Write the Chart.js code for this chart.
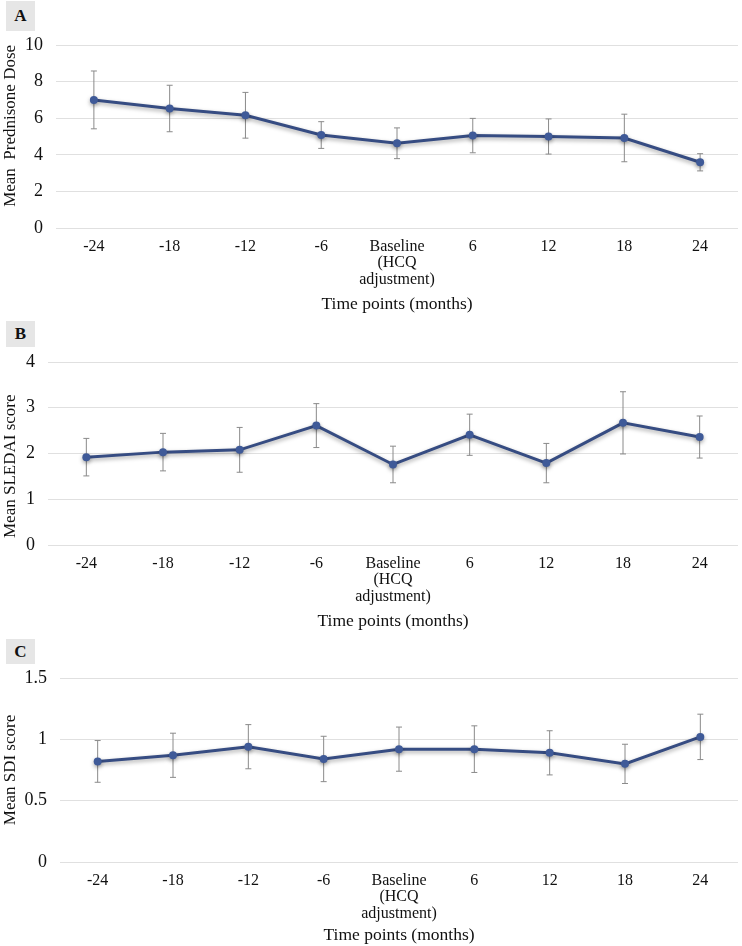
<!DOCTYPE html>
<html>
<head>
<meta charset="utf-8">
<script src="https://cdn.jsdelivr.net/npm/chart.js@4.4.1/dist/chart.umd.min.js"></script>
<style>
  body { margin: 0; background: #fff; }
  #wrap { position: relative; width: 742px; height: 946px; }
  canvas { position: absolute; left: 0; }
  .tag {
    position: absolute; left: 6px; width: 29px;
    background: #e6e6e6; color: #111;
    font: bold 17px "Liberation Serif", serif;
    display: flex; align-items: center; justify-content: center;
  }
</style>
</head>
<body>
<div id="wrap">
  <div class="tag" style="top:1px;height:30px;">A</div>
  <div class="tag" style="top:321px;height:26px;">B</div>
  <div class="tag" style="top:639px;height:25px;">C</div>
  <canvas id="chartA" width="742" height="315" style="top:0px"></canvas>
  <canvas id="chartB" width="742" height="317" style="top:315px"></canvas>
  <canvas id="chartC" width="742" height="314" style="top:632px"></canvas>
</div>
<script>
const timePoints = ['-24', '-18', '-12', '-6', ['Baseline', '(HCQ', 'adjustment)'], '6', '12', '18', '24'];

const prednisoneMean = [7.0, 6.53, 6.16, 5.08, 4.63, 5.05, 5.0, 4.92, 3.59];
const prednisoneErr  = [1.58, 1.27, 1.25, 0.73, 0.84, 0.94, 0.96, 1.30, 0.47];

const sledaiMean = [1.92, 2.03, 2.08, 2.61, 1.76, 2.41, 1.79, 2.67, 2.36];
const sledaiErr  = [0.41, 0.41, 0.49, 0.48, 0.40, 0.45, 0.43, 0.68, 0.46];

const sdiMean = [0.82, 0.87, 0.94, 0.84, 0.92, 0.92, 0.89, 0.80, 1.02];
const sdiErr  = [0.17, 0.18, 0.18, 0.185, 0.18, 0.19, 0.18, 0.16, 0.185];

const serif = 'Liberation Serif';

// error bars are drawn under the line, using the chart's own scales
const errorBars = {
  id: 'errorBars',
  beforeDatasetsDraw(chart) {
    const ctx = chart.ctx;
    const x = chart.scales.x, y = chart.scales.y;
    chart.data.datasets.forEach(ds => {
      ds.data.forEach((v, i) => {
        const e = ds.errors[i];
        const px = x.getPixelForValue(i);
        const top = y.getPixelForValue(v + e);
        const bot = y.getPixelForValue(v - e);
        ctx.save();
        ctx.strokeStyle = '#8a8a8a';
        ctx.lineWidth = 1;
        ctx.beginPath();
        ctx.moveTo(px, top); ctx.lineTo(px, bot);
        ctx.moveTo(px - 3, top); ctx.lineTo(px + 3, top);
        ctx.moveTo(px - 3, bot); ctx.lineTo(px + 3, bot);
        ctx.stroke();
        ctx.restore();
      });
    });
  }
};

const lineShadow = {
  id: 'lineShadow',
  beforeDatasetDraw(chart) {
    const ctx = chart.ctx;
    ctx.save();
    ctx.shadowColor = 'rgba(0,0,0,0.35)';
    ctx.shadowBlur = 4;
    ctx.shadowOffsetY = 2;
  },
  afterDatasetDraw(chart) {
    chart.ctx.restore();
  }
};

function makePanel(id, values, errors, yMax, yStep, yTitle, axisW, axisH, padTop) {
  return new Chart(document.getElementById(id), {
    type: 'line',
    data: {
      labels: timePoints,
      datasets: [{
        data: values,
        errors: errors,
        borderColor: '#364c82',
        backgroundColor: '#3f5a98',
        borderWidth: 3,
        pointRadius: 4,
        pointBorderWidth: 0,
        tension: 0
      }]
    },
    options: {
      responsive: false,
      animation: false,
      layout: { padding: { top: padTop, right: 0, left: 0, bottom: 0 } },
      plugins: { legend: { display: false }, tooltip: { enabled: false } },
      scales: {
        x: {
          offset: true,
          grid: { display: false, drawTicks: false },
          border: { display: false },
          ticks: { color: '#111', padding: 10, maxRotation: 0, autoSkip: false,
                   font: { family: serif, size: 16, lineHeight: 1.05 } },
          title: { display: true, text: 'Time points (months)', color: '#111',
                   padding: 0, font: { family: serif, size: 17.5 } },
          afterFit(s) { s.height = axisH; }
        },
        y: {
          min: 0, max: yMax,
          grid: { color: '#e0e0e0', lineWidth: 1, drawTicks: false },
          border: { display: false },
          ticks: { stepSize: yStep, color: '#111', padding: 13,
                   font: { family: serif, size: 18 },
                   callback: v => String(Number(v)) },
          title: { display: true, text: yTitle, color: '#111',
                   padding: 0, font: { family: serif, size: 17 } },
          afterFit(s) { s.width = axisW; }
        }
      }
    },
    plugins: [errorBars, lineShadow]
  });
}

// the spaces around the y titles nudge them along the axis like in the figure
makePanel('chartA', prednisoneMean, prednisoneErr, 10, 2, '     Mean  Prednisone Dose', 56, 87, 45);
makePanel('chartB', sledaiMean, sledaiErr, 4, 1, 'Mean SLEDAI score      ', 48, 87, 47);
makePanel('chartC', sdiMean, sdiErr, 1.5, 0.5, 'Mean SDI score', 60, 84, 46);
</script>
</body>
</html>
